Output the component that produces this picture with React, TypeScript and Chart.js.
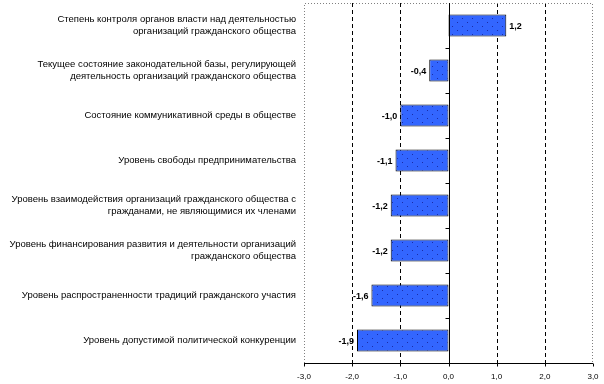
import React, { useEffect, useRef } from "react";
import { Chart, registerables } from "chart.js";

Chart.register(...registerables);

const categories: (string | string[])[] = [
  ["Степень контроля органов власти над деятельностью", "организаций гражданского общества"],
  ["Текущее состояние законодательной базы, регулирующей", "деятельность организаций гражданского общества"],
  "Состояние коммуникативной среды в обществе",
  "Уровень свободы предпринимательства",
  ["Уровень взаимодействия организаций гражданского общества с", "гражданами, не являющимися их членами"],
  ["Уровень финансирования развития и деятельности организаций", "гражданского общества"],
  "Уровень распространенности традиций гражданского участия",
  "Уровень допустимой политической конкуренции",
];
const values = [1.2, -0.4, -1.0, -1.1, -1.2, -1.2, -1.6, -1.9];
const xMin = -3;
const xMax = 3;
const gridValues = [-2, -1, 1, 2];
const tickValues = [-3, -2, -1, 0, 1, 2, 3];

const FONT = "'Liberation Sans', Arial, sans-serif";

function fmt(v: number) {
  return v.toFixed(1).replace(".", ",");
}

function makePattern(ctx: CanvasRenderingContext2D): CanvasPattern | string {
  const c = document.createElement("canvas");
  c.width = 10;
  c.height = 8;
  const p = c.getContext("2d");
  if (!p) return "#3366FF";
  p.fillStyle = "#3366FF";
  p.fillRect(0, 0, 10, 8);
  p.fillStyle = "#1a2ca8";
  p.fillRect(2, 2, 1, 1);
  p.fillRect(7, 6, 1, 1);
  return ctx.createPattern(c, "repeat") || "#3366FF";
}

const decor = {
  id: "decor",
  beforeDatasetsDraw(chart: any) {
    const { ctx, chartArea, scales } = chart;
    const { left, right, top, bottom } = chartArea;
    const x = scales.x;
    ctx.save();
    ctx.lineWidth = 1;
    ctx.strokeStyle = "#000";
    ctx.setLineDash([4, 3]);
    for (const v of gridValues) {
      const px = Math.round(x.getPixelForValue(v)) + 0.5;
      ctx.beginPath();
      ctx.moveTo(px, top);
      ctx.lineTo(px, bottom);
      ctx.stroke();
    }
    ctx.strokeStyle = "#808080";
    ctx.setLineDash([1, 2]);
    ctx.beginPath();
    ctx.moveTo(Math.round(left) + 0.5, Math.round(bottom));
    ctx.lineTo(Math.round(left) + 0.5, Math.round(top) + 0.5);
    ctx.lineTo(Math.round(right) - 0.5, Math.round(top) + 0.5);
    ctx.lineTo(Math.round(right) - 0.5, Math.round(bottom));
    ctx.stroke();
    ctx.setLineDash([]);
    ctx.strokeStyle = "#000";
    const by = Math.round(bottom) + 0.5;
    ctx.beginPath();
    ctx.moveTo(left, by);
    ctx.lineTo(right, by);
    for (const v of tickValues) {
      const px = Math.round(x.getPixelForValue(v)) + 0.5;
      ctx.moveTo(px, by);
      ctx.lineTo(px, by + 3);
    }
    ctx.stroke();
    ctx.restore();
  },
  afterDatasetsDraw(chart: any) {
    const { ctx, chartArea, scales } = chart;
    const { top, bottom } = chartArea;
    const x = scales.x;
    ctx.save();
    const x0 = Math.round(x.getPixelForValue(0)) + 0.5;
    ctx.strokeStyle = "#000";
    ctx.lineWidth = 1;
    ctx.beginPath();
    ctx.moveTo(x0, top);
    ctx.lineTo(x0, bottom);
    const n = categories.length;
    for (let i = 1; i < n; i++) {
      const yy = Math.round(top + (i * (bottom - top)) / n) + 0.5;
      ctx.moveTo(x0 - 4, yy);
      ctx.lineTo(x0, yy);
    }
    ctx.stroke();
    const meta = chart.getDatasetMeta(0);
    ctx.font = `bold 9px ${FONT}`;
    ctx.fillStyle = "#000";
    ctx.textBaseline = "middle";
    meta.data.forEach((bar: any, i: number) => {
      const v = values[i];
      if (v >= 0) {
        ctx.textAlign = "left";
        ctx.fillText(fmt(v), bar.x + 3, bar.y + 1);
      } else {
        ctx.textAlign = "right";
        ctx.fillText(fmt(v), bar.x - 3, bar.y + 1);
      }
    });
    ctx.restore();
  },
};

export default function App() {
  const ref = useRef<HTMLCanvasElement | null>(null);
  useEffect(() => {
    const canvas = ref.current;
    if (!canvas) return;
    const ctx = canvas.getContext("2d")!;
    const pattern = makePattern(ctx);
    const chart = new Chart(canvas, {
      type: "bar",
      data: {
        labels: categories,
        datasets: [
          {
            data: values,
            backgroundColor: pattern as any,
            borderColor: "#000",
            borderWidth: 1,
            borderSkipped: false,
            barPercentage: 0.49,
            categoryPercentage: 1,
          },
        ],
      },
      options: {
        indexAxis: "y",
        responsive: false,
        animation: false,
        events: [],
        layout: { padding: { top: 3, right: 11, left: 0, bottom: 0 } },
        plugins: {
          legend: { display: false },
          tooltip: { enabled: false },
        },
        scales: {
          x: {
            type: "linear",
            min: xMin,
            max: xMax,
            afterFit(scale: any) {
              scale.height = 21;
              scale.paddingLeft = 0;
              scale.paddingRight = 0;
            },
            afterBuildTicks(scale: any) {
              scale.ticks = tickValues.map((v) => ({ value: v }));
            },
            grid: { display: false, drawTicks: false },
            border: { display: false },
            ticks: {
              padding: 9,
              color: "#000",
              font: { family: FONT, size: 8 },
              maxRotation: 0,
              callback: (v: any) => fmt(Number(v)),
            },
          },
          y: {
            type: "category",
            afterFit(scale: any) {
              scale.width = 304;
              scale.paddingTop = 0;
              scale.paddingBottom = 0;
            },
            grid: { display: false, drawTicks: false },
            border: { display: false },
            ticks: {
              padding: 8,
              color: "#000",
              autoSkip: false,
              font: { family: FONT, size: 9.5, lineHeight: 1.25 },
            },
          },
        },
      },
      plugins: [decor],
    } as any);
    return () => chart.destroy();
  }, []);
  return (
    <div style={{ position: "fixed", left: 0, top: 0, width: 604, height: 384, background: "#fff" }}>
      <canvas ref={ref} width={604} height={384} style={{ display: "block", width: 604, height: 384 }} />
    </div>
  );
}
